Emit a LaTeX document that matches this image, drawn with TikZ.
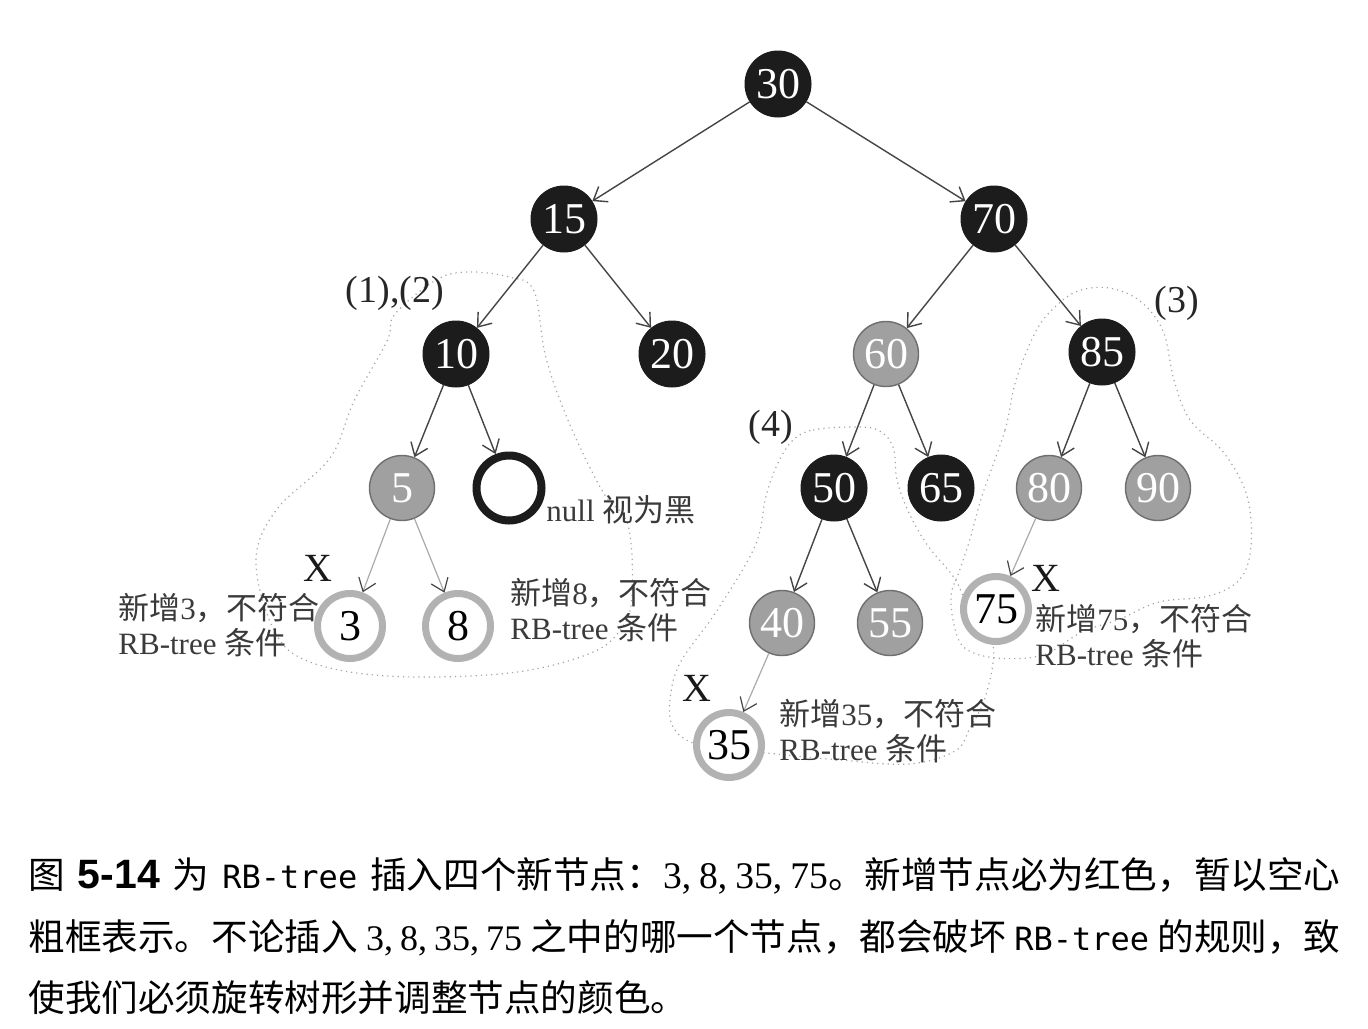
\documentclass[tikz,border=0pt]{standalone}
\usepackage{fontspec}
\setmainfont{Liberation Serif}
\newfontfamily\cjk{Noto Sans CJK SC}
\newfontfamily\capmono{DejaVu Sans Mono}
\newfontfamily\capsans{Liberation Sans}
\usetikzlibrary{arrows.meta}
\definecolor{blk}{HTML}{1C1C1C}
\definecolor{redn}{HTML}{A0A0A0}
\definecolor{redb}{HTML}{6E6E6E}
\definecolor{ringc}{HTML}{B2B2B2}
\definecolor{edgec}{HTML}{444444}
\definecolor{ltedge}{HTML}{AAAAAA}
\definecolor{annoc}{HTML}{3A3A3A}
\definecolor{outl}{HTML}{A4A4A4}
\newcommand\capgap{\hspace{5pt plus 1fill}}
\newcommand\capgapb{\hspace{2.5pt plus 1fill}}
\tikzset{
  numfont/.style={font=\fontsize{22}{22}\selectfont},
  bnode/.style={circle, fill=blk, draw=blk, line width=0.5pt, minimum size=33pt, inner sep=0pt, text=white, numfont},
  rnode/.style={circle, fill=redn, draw=redb, line width=0.7pt, minimum size=32.5pt, inner sep=0pt, text=white, numfont},
  newnode/.style={circle, fill=white, draw=ringc, line width=3.5pt, minimum size=32.5pt, inner sep=0pt, text=black, numfont},
  nullnode/.style={circle, fill=white, draw=blk, line width=4pt, minimum size=32.5pt, inner sep=0pt},
  tedge/.style={draw=edgec, line width=0.7pt, -{Straight Barb[length=6pt,width=9pt]}},
  ledge/.style={draw=ltedge, line width=0.6pt, -{Straight Barb[length=6pt,width=9pt,color=edgec]}},
  outline/.style={draw=outl, line width=0.6pt, dotted},
  anno/.style={anchor=west, text=annoc, font=\fontsize{15.5}{17.5}\selectfont, align=left, inner sep=0pt},
  tag/.style={font=\fontsize{19}{19}\selectfont, text=black!85, inner sep=0pt},
  xmark/.style={font=\fontsize{20}{20}\selectfont, text=black!90, inner sep=0pt},
  capline/.style={anchor=base west, inner sep=0pt, font=\fontsize{18.3}{18.3}\selectfont},
}
\begin{document}
\begin{tikzpicture}[x=0.5pt,y=-0.5pt]
\useasboundingbox (0,0) rectangle (1368,1028);

% dotted outlines
\draw[outline] plot[smooth cycle, tension=0.6] coordinates {
 (395,314) (436,280) (468,272) (509,277) (534,291) (546,358) (570,425) (603,492)
 (628,525) (632,593) (623,626) (591,653) (509,673) (387,676) (305,660) (272,626)
 (256,559) (277,509) (330,458) (354,401) (387,341)};
\draw[outline] plot[smooth cycle, tension=0.6] coordinates {
 (982,496) (1005,430) (1016,380) (1036,331) (1055,307) (1078,291) (1109,288) (1140,301)
 (1163,331) (1174,380) (1190,420) (1224,453) (1247,496) (1251,546) (1240,579) (1209,596)
 (1159,602) (1120,619) (1082,632) (1043,655) (997,658) (966,649) (955,629) (951,596)
 (959,572) (970,539)};
\draw[outline] plot[smooth cycle, tension=0.6] coordinates {
 (793,440) (813,430) (851,427) (878,430) (893,447) (897,480) (909,513) (928,546)
 (955,579) (970,612) (993,645) (986,695) (970,728) (955,751) (909,764) (840,760)
 (767,753) (729,748) (693,743) (673,727) (670,700) (680,663) (716,612) (755,546)
 (766,496) (778,463)};

% nodes
\node[bnode] (n30) at (778,84) {30};
\node[bnode] (n15) at (564,219) {15};
\node[bnode] (n70) at (994,219) {70};
\node[bnode] (n10) at (456,354) {10};
\node[bnode] (n20) at (672,354) {20};
\node[rnode] (n60) at (886,354) {60};
\node[bnode] (n85) at (1102,352) {85};
\node[rnode] (n5) at (402,488) {5};
\node[nullnode] (nnull) at (509,488) {};
\node[bnode] (n50) at (834,488) {50};
\node[bnode] (n65) at (941,488) {65};
\node[rnode] (n80) at (1049,488) {80};
\node[rnode] (n90) at (1158,488) {90};
\node[newnode] (n3) at (350,626) {3};
\node[newnode] (n8) at (458,626) {8};
\node[rnode] (n40) at (782,623) {40};
\node[rnode] (n55) at (890,623) {55};
\node[newnode] (n75) at (996,609) {75};
\node[newnode] (n35) at (729,745) {35};

% edges
\draw[tedge] (n30) -- (n15);
\draw[tedge] (n30) -- (n70);
\draw[tedge] (n15) -- (n10);
\draw[tedge] (n15) -- (n20);
\draw[tedge] (n70) -- (n60);
\draw[tedge] (n70) -- (n85);
\draw[tedge] (n10) -- (n5);
\draw[tedge] (n10) -- (nnull);
\draw[tedge] (n60) -- (n50);
\draw[tedge] (n60) -- (n65);
\draw[tedge] (n85) -- (n80);
\draw[tedge] (n85) -- (n90);
\draw[tedge] (n50) -- (n40);
\draw[tedge] (n50) -- (n55);
\draw[ledge] (n5) -- (n3);
\draw[ledge] (n5) -- (n8);
\draw[ledge] (n40) -- (n35);
\draw[ledge] (n80) -- (n75);

% labels
\node[tag] (t12) at (395,293) {(1),(2)};
\node[tag] (t3) at (1177,303) {(3)};
\node[tag] (t4) at (771,427) {(4)};
\node[xmark] (x3) at (318,568) {X};
\node[xmark] (x75) at (1046,578) {X};
\node[xmark] (x35) at (697,688) {X};
\node[anno] (lnull) at (546,510) {null {\cjk 视为黑}};
\node[anno] (a3) at (118,625) {{\cjk 新增}3{\cjk ，不符合}\\RB-tree {\cjk 条件}};
\node[anno] (a8) at (510,610) {{\cjk 新增}8{\cjk ，不符合}\\RB-tree {\cjk 条件}};
\node[anno] (a75) at (1035,636) {{\cjk 新增}75{\cjk ，不符合}\\RB-tree {\cjk 条件}};
\node[anno] (a35) at (779,731) {{\cjk 新增}35{\cjk ，不符合}\\RB-tree {\cjk 条件}};

% caption
\node[capline] (c1) at (28,888) {\makebox[656pt][s]{{\cjk 图}\capgap{\capsans\bfseries\fontsize{20.5}{20}\selectfont 5-14}\capgap{\cjk 为}\capgap{\capmono\fontsize{16}{16}\selectfont RB-tree}\capgap{\cjk 插入四个新节点：}{\fontsize{18.8}{18}\selectfont 3,\hspace{4pt}8,\hspace{4pt}35,\hspace{4pt}75}{\cjk 。新增节点必为红色，暂以空心}}};
\node[capline] (c2) at (28,950) {\makebox[656pt][s]{{\cjk 粗框表示。不论插入}\capgapb{\fontsize{18}{18}\selectfont 3,\hspace{3.5pt}8,\hspace{3.5pt}35,\hspace{3.5pt}75}\capgapb{\cjk 之中的哪一个节点，都会破坏}\capgapb{\capmono\fontsize{16}{16}\selectfont RB-tree}\capgapb{\cjk 的规则，致}}};
\node[capline] (c3) at (28,1011) {{\cjk 使我们必须旋转树形并调整节点的颜色。}};
\end{tikzpicture}
\end{document}
